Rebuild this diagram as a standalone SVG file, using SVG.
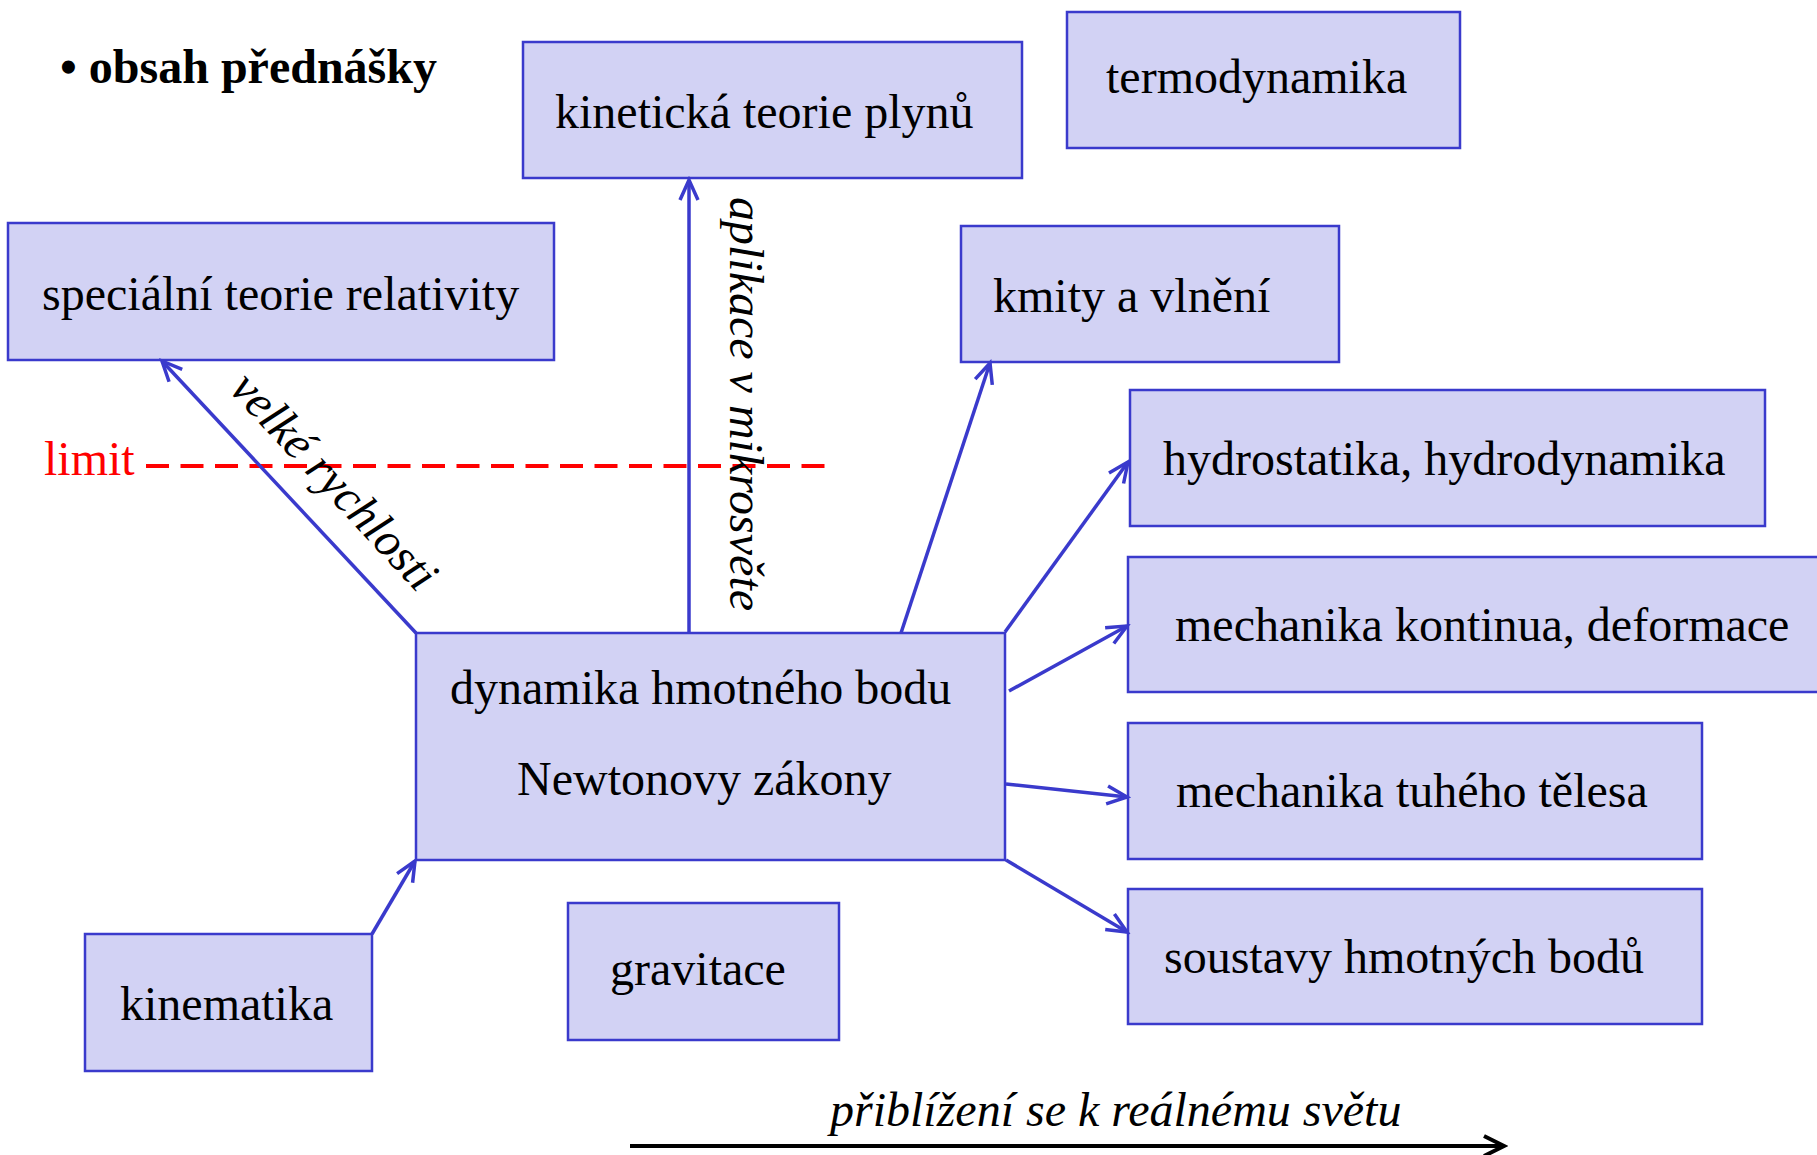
<svg xmlns="http://www.w3.org/2000/svg" width="1817" height="1155" viewBox="0 0 1817 1155">
<style>
.box{fill:#d2d2f4;stroke:#3a3acc;stroke-width:2.5}
.t{font-family:"Liberation Serif","Times New Roman",serif;font-size:48px;fill:#000}
.i{font-style:italic}
.b{font-weight:bold}
.c{fill:none;stroke:#3a3acc;stroke-width:3.5}
</style>
<defs>
<marker id="ah" markerUnits="userSpaceOnUse" viewBox="-24 -12 28 24" markerWidth="28" markerHeight="24" refX="0" refY="0" orient="auto">
<path d="M-20,-9 L0,0 L-20,9" fill="none" stroke="#3a3acc" stroke-width="3.5"/>
</marker>
<marker id="bh" markerUnits="userSpaceOnUse" viewBox="-24 -12 28 24" markerWidth="28" markerHeight="24" refX="0" refY="0" orient="auto">
<path d="M-20,-10 L0,0 L-20,10" fill="none" stroke="#000" stroke-width="4"/>
</marker>
</defs>
<rect width="1817" height="1155" fill="#fff"/>
<text class="t b" x="60" y="83">• obsah přednášky</text>
<g id="kineticka"><rect class="box" x="523" y="42" width="499" height="136"/><text class="t" x="555" y="128">kinetická teorie plynů</text></g>
<g id="termodynamika"><rect class="box" x="1067" y="12" width="393" height="136"/><text class="t" x="1106" y="93">termodynamika</text></g>
<g id="specialni"><rect class="box" x="8" y="223" width="546" height="137"/><text class="t" x="42" y="310">speciální teorie relativity</text></g>
<g id="kmity"><rect class="box" x="961" y="226" width="378" height="136"/><text class="t" x="993" y="312">kmity a vlnění</text></g>
<g id="hydro"><rect class="box" x="1130" y="390" width="635" height="136"/><text class="t" x="1163" y="475">hydrostatika, hydrodynamika</text></g>
<g id="kontinua"><rect class="box" x="1128" y="557" width="700" height="135"/><text class="t" x="1175" y="641">mechanika kontinua, deformace</text></g>
<g id="tuhe"><rect class="box" x="1128" y="723" width="574" height="136"/><text class="t" x="1176" y="807">mechanika tuhého tělesa</text></g>
<g id="soustavy"><rect class="box" x="1128" y="889" width="574" height="135"/><text class="t" x="1164" y="973">soustavy hmotných bodů</text></g>
<g id="dynamika"><rect class="box" x="416" y="633" width="589" height="227"/><text class="t" x="450" y="704">dynamika hmotného bodu</text><text class="t" x="517" y="795">Newtonovy zákony</text></g>
<g id="kinematika"><rect class="box" x="85" y="934" width="287" height="137"/><text class="t" x="120" y="1020">kinematika</text></g>
<g id="gravitace"><rect class="box" x="568" y="903" width="271" height="137"/><text class="t" x="610" y="985">gravitace</text></g>
<g id="limit"><text class="t" x="44" y="475" style="fill:#ff0000">limit</text><line x1="146" y1="466" x2="827" y2="466" stroke="#ff0000" stroke-width="4" stroke-dasharray="23 11.5"/></g>
<g id="connectors">
<line class="c" x1="416" y1="633" x2="162" y2="361" marker-end="url(#ah)"/>
<line class="c" x1="689" y1="633" x2="689" y2="180" marker-end="url(#ah)"/>
<line class="c" x1="901" y1="633" x2="990" y2="363" marker-end="url(#ah)"/>
<line class="c" x1="1005" y1="632" x2="1128" y2="462" marker-end="url(#ah)"/>
<line class="c" x1="1009" y1="691" x2="1127" y2="626" marker-end="url(#ah)"/>
<line class="c" x1="1006" y1="784" x2="1127" y2="797" marker-end="url(#ah)"/>
<line class="c" x1="1006" y1="860" x2="1127" y2="932" marker-end="url(#ah)"/>
<line class="c" x1="372" y1="934" x2="415" y2="861" marker-end="url(#ah)"/>
<line x1="630" y1="1146" x2="1504" y2="1146" stroke="#000" stroke-width="4" marker-end="url(#bh)"/>
</g>
<text class="t i" transform="translate(228,390) rotate(47)">velké rychlosti</text>
<text class="t i" transform="translate(730,197) rotate(90)">aplikace v mikrosvěte</text>
<text class="t i" x="830" y="1126">přiblížení se k reálnému světu</text>
</svg>
